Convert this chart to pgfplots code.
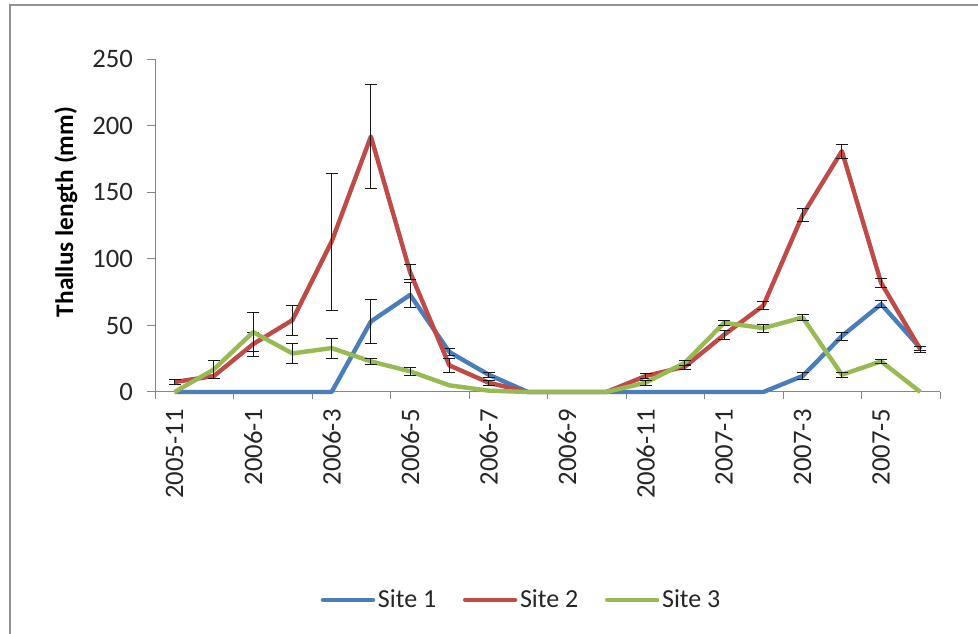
\documentclass[border=0pt]{standalone}
\usepackage{pgfplots}
\pgfplotsset{compat=1.18}
\usepackage{pgfplotstable}
\usepackage{fontspec}
\setmainfont{Carlito}

\definecolor{siteone}{HTML}{4A7EBB}
\definecolor{sitetwo}{HTML}{BE4B48}
\definecolor{sitethree}{HTML}{98B954}
\definecolor{axisgray}{HTML}{868686}

% monthly means, months counted from 2005-11 (0) to 2007-6 (19)
\pgfplotstableread{
x y
0 0
1 0
2 0
3 0
4 0
5 53
6 73
7 30
8 13
9 0
10 0
11 0
12 0
13 0
14 0
15 0
16 12
17 42
18 66
19 33
}\siteonedata

\pgfplotstableread{
x y
0 7.5
1 12
2 36
3 54
4 113
5 192
6 90
7 20
8 7
9 0
10 0
11 0
12 12
13 19
14 43
15 65
16 133
17 181
18 82
19 32
}\sitetwodata

\pgfplotstableread{
x y
0 0
1 17
2 45
3 29
4 33
5 23
6 15.5
7 5
8 1
9 0
10 0
11 0
12 7
13 22
14 52
15 48
16 56
17 13
18 23
19 0
}\sitethreedata

% standard errors, only where a bar is shown
\pgfplotstableread{
x y e
5 53 16.8
6 73 9.5
7 30 2.5
8 13 2
16 12 2.5
17 42 3
18 66 2.5
19 33 1.5
}\siteoneerr

\pgfplotstableread{
x y e
0 7.5 1.7
2 36 9
3 54 11.3
4 113 51.5
5 192 39
6 90 5.5
7 20 5
8 7 2
12 12 2
13 19 2
14 43 3.5
15 65 3.3
16 133 4.7
17 181 5.4
18 82 3.7
19 32 2
}\sitetwoerr

\pgfplotstableread{
x y e
1 17 6.5
2 45 14.6
3 29 7.8
4 33 7.5
5 23 2
6 15.5 2.7
12 7 2
13 22 2
14 52 2
15 48 3
16 56 2
17 13 2
18 23 1.5
}\sitethreeerr

\pgfplotsset{
  errstyle/.style={forget plot, draw=none, no markers,
    error bars/.cd, y dir=both, y explicit,
    error bar style={draw=black!90, line width=0.65pt},
    error mark options={draw=black!90, rotate=90, mark size=4.5pt, line width=0.65pt}},
}

\begin{document}
\begin{tikzpicture}[x=1pt,y=1pt]
\path[use as bounding box] (0,0) rectangle (733.5,475.5);
\draw[axisgray!90, line width=1.5pt] (7.5,0) -- (7.5,471.75) -- (733.5,471.75);
\begin{axis}[
  at={(116.25pt,181.5pt)}, anchor=south west,
  scale only axis, width=588.75pt, height=249.5pt,
  xmin=-0.5, xmax=19.5, ymin=0, ymax=250,
  clip=false,
  axis x line*=bottom, axis y line*=left,
  axis line style={axisgray, line width=0.75pt},
  tick align=outside,
  tick style={axisgray, line width=0.75pt},
  major tick length=6pt, minor tick length=5.5pt,
  xtick={0,2,...,18},
  xticklabels={2005-11,2006-1,2006-3,2006-5,2006-7,2006-9,2006-11,2007-1,2007-3,2007-5},
  major x tick style={draw=none},
  minor xtick={-0.5,1.5,...,19.5},
  ytick={0,50,...,250},
  /pgf/number format/assume math mode=true,
  tick label style={font=\fontsize{20}{20}\selectfont, text=black!85},
  xticklabel style={rotate=90, anchor=east},
  xticklabel shift=3.5pt,
  yticklabel style={anchor=east},
  yticklabel shift=7pt,
  ylabel={Thallus length (mm)},
  ylabel style={at={(axis description cs:-0.1134,0.541)}, anchor=center,
    font=\fontsize{19}{19}\selectfont\bfseries, text=black},
  legend style={at={(axis description cs:0.4675,-0.625)}, anchor=center,
    draw=none, fill=none, legend columns=3,
    font=\fontsize{19.5}{19.5}\selectfont, text=black!85,
    /tikz/every even column/.append style={column sep=18pt}},
  legend image code/.code={\draw[#1, line width=3.3pt, line cap=round] (0pt,0pt) -- (37.5pt,0pt);},
]
\addplot[siteone, line width=3.3pt, line join=round] table[x=x,y=y] {\siteonedata};
\addplot[errstyle] table[x=x,y=y,y error=e] {\siteoneerr};
\addplot[sitetwo, line width=3.3pt, line join=round] table[x=x,y=y] {\sitetwodata};
\addplot[errstyle] table[x=x,y=y,y error=e] {\sitetwoerr};
\addplot[sitethree, line width=3.3pt, line join=round] table[x=x,y=y] {\sitethreedata};
\addplot[errstyle] table[x=x,y=y,y error=e] {\sitethreeerr};
\legend{Site 1, Site 2, Site 3}
\end{axis}
\end{tikzpicture}
\end{document}
